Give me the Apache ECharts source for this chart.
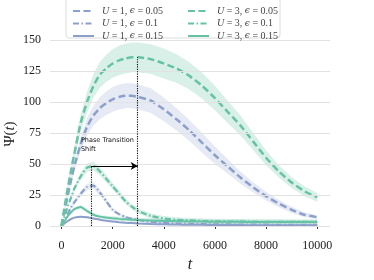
<!DOCTYPE html>
<html><head><meta charset="utf-8">
<script src="https://cdn.jsdelivr.net/npm/echarts@6/dist/echarts.min.js"></script>
<style>html,body{margin:0;padding:0;background:#fff}#c{width:374px;height:280px}</style>
</head><body><div id="c"></div><script>
// time grid
const T = [0,125,250,375,500,750,1000,1250,1500,1750,2000,2250,2500,2750,3000,3500,4000,4500,5000,5500,6000,6500,7000,7500,8000,8500,9000,9500,10000];
// U=1
const u1e005 = [0,13,25,37,48,66,80,89,95,99,102,104,105,105,104,101,94,86,77,67,57,48,39,31,24,18,13,9,7];
const u1e005Err = [0,1,2,3,4,5.5,7,8,9,9.5,10,10,10,10,10,10,9.5,9,8.5,8,7,6,5,4,3.5,3,2.5,2,1.5];
const u1e01 = [0,5,10,15,19,26,31.5,32.5,27,20,13,9.5,7.2,5.8,4.8,3.2,2.5,2,1.7,1.5,1.3,1.2,1.1,1,1,0.9,0.9,0.8,0.8];
const u1e01Err = [0,0.5,1,1.4,1.7,2.2,2.5,2.5,2.3,2,1.6,1.3,1,0.9,0.8,0.7,0.7,0.7,0.7,0.7,0.7,0.7,0.7,0.7,0.7,0.7,0.7,0.7,0.7];
const u1e015 = [0,2.2,4,5.6,6.7,7.5,7,6,5,4.2,3.5,3,2.6,2.3,2,1.6,1.3,1.1,1,0.9,0.8,0.7,0.7,0.6,0.6,0.6,0.5,0.5,0.5];
const u1e015Err = [0,0.3,0.5,0.6,0.7,0.8,0.8,0.7,0.6,0.6,0.6,0.6,0.6,0.6,0.6,0.6,0.6,0.6,0.6,0.6,0.6,0.6,0.6,0.6,0.6,0.6,0.6,0.6,0.6];
// U=3
const u3e005 = [0,16,31,45,58,83,100,113,122,127,131,133.5,135,136,136,134.5,131,127,121,113,103,92,81,68,55,44,35,28,23];
const u3e005Err = [0,1.5,3,4,5,7,8.5,9.5,10.5,11,11.5,12,12,12,12,12,12,11.5,11,10.5,10,9,8,7,6,5,4.5,4,3.5];
const u3e01 = [0,8,16,23,30,40,47,48.3,44,38,32,26,20,15.5,12,8,6,5,4.5,4,3.8,3.6,3.5,3.4,3.3,3.3,3.2,3.2,3.2];
const u3e01Err = [0,0.6,1.2,1.8,2.2,2.8,3.3,3.5,3.3,3,2.7,2.4,2.2,2,2,2,2,2,2,2,2,2,2,2,2,2,2,2,2];
const u3e015 = [0,4,8,11,13.5,15.3,12,9,7.5,6.8,6.2,5.7,5.3,5,4.8,4.4,4,3.8,3.6,3.5,3.4,3.3,3.3,3.2,3.2,3.1,3.1,3.1,3.1];
const u3e015Err = [0,0.4,0.8,1,1.2,1.4,1.4,1.4,1.4,1.5,1.6,1.7,1.8,1.8,1.8,1.8,1.8,1.8,1.8,1.8,1.8,1.8,1.8,1.8,1.8,1.8,1.8,1.8,1.8];
// ticks
const xTicks = [0,2000,4000,6000,8000,10000];
const yTicks = [0,25,50,75,100,125,150];
// annotation
const shiftFrom = 1150, shiftTo = 2980, shiftLevel = 48.3, shiftTop = 136;
const noteText = 'Phase Transition\nShift';
const notePos = [760, 65.7];

const BLUE = '#8da0cb', GREEN = '#66c2a5';
const BLUE_BAND = 'rgba(141,160,203,0.22)', GREEN_BAND = 'rgba(102,194,165,0.25)';
const DASH = [7,3.5], DASHDOT = [6,2.5,1.5,2.5];
const labels = {
  a1:'{i|U} = 1, {e|ϵ} = 0.05', b1:'{i|U} = 1, {e|ϵ} = 0.1', c1:'{i|U} = 1, {e|ϵ} = 0.15',
  a3:'{i|U} = 3, {e|ϵ} = 0.05', b3:'{i|U} = 3, {e|ϵ} = 0.1', c3:'{i|U} = 3, {e|ϵ} = 0.15'
};
const series = [];
const SM = 0.2;
function add(name, vals, errs, color, band, dash, width) {
  series.push({type:'custom', silent:true, z:1, clip:true,
    data: vals.map((v,i)=>[T[i], v-errs[i], v+errs[i]]),
    encode:{x:0, y:[1,2]},
    renderItem:(params, api) => {
      if (params.dataIndex !== 0) return null;
      const pts = [];
      for (let i = 0; i < T.length; i++) pts.push(api.coord([T[i], vals[i]+errs[i]]));
      for (let i = T.length-1; i >= 0; i--) pts.push(api.coord([T[i], vals[i]-errs[i]]));
      return {type:'polygon', shape:{points:pts}, style:{fill:band}};
    }});
  series.push({name, type:'line', data: vals.map((v,i)=>[T[i], v]), symbol:'none', smooth:SM,
    lineStyle:{color, width, type:dash}, itemStyle:{color}, z:3});
}
add('a1', u1e005, u1e005Err, BLUE, BLUE_BAND, DASH, 2.5);
add('b1', u1e01, u1e01Err, BLUE, BLUE_BAND, DASHDOT, 2.2);
add('c1', u1e015, u1e015Err, BLUE, BLUE_BAND, 'solid', 2);
add('a3', u3e005, u3e005Err, GREEN, GREEN_BAND, DASH, 2.5);
add('b3', u3e01, u3e01Err, GREEN, GREEN_BAND, DASHDOT, 2.2);
add('c3', u3e015, u3e015Err, GREEN, GREEN_BAND, 'solid', 2);

// grid lines
series.push({type:'line', data:[], z:0, silent:true, markLine:{silent:true, symbol:'none', label:{show:false},
  lineStyle:{color:'#e2e2e2', width:1, type:'solid'}, animation:false,
  data: yTicks.map(v=>({yAxis:v}))}});
// annotation
series.push({type:'line', data:[], z:6, silent:true,
  markLine:{silent:true, animation:false, label:{show:false}, symbol:'none', symbolSize:7,
    data:[
      [{coord:[shiftFrom,0], lineStyle:{color:'#111', width:1.1, type:[1.2,1.2]}},{coord:[shiftFrom,shiftLevel]}],
      [{coord:[shiftTo,0], lineStyle:{color:'#111', width:1.1, type:[1.2,1.2]}},{coord:[shiftTo,shiftTop]}],
      [{coord:[shiftFrom,shiftLevel], symbol:'none', lineStyle:{color:'#000', width:1.2, type:'solid'}},
       {coord:[shiftTo,shiftLevel], symbol:'arrow', symbolSize:[6,7]}]
    ]},
  markPoint:{silent:true, animation:false, symbol:'rect', symbolSize:0,
    data:[{coord:notePos, label:{show:true, position:'right', distance:0, formatter:noteText,
      fontSize:6.5, lineHeight:9, fontFamily:'DejaVu Sans', color:'#111', align:'left'}}]}
});

const rich = {
  i:{fontFamily:'Liberation Serif', fontStyle:'italic', fontSize:10, color:'#444'},
  e:{fontFamily:'DejaVu Serif', fontStyle:'italic', fontSize:9, color:'#444'}
};
function legend(names, left) {
  return {data:names, orient:'vertical', left, top:0, itemWidth:21, itemHeight:8, itemGap:0.5,
    formatter: n => labels[n], z:6,
    itemStyle:{opacity:0, borderWidth:0},
    textStyle:{fontFamily:'Liberation Serif', fontSize:10, color:'#444', lineHeight:12, padding:[0,0,0,3], rich}};
}
const option = {
  animation:false,
  backgroundColor:'#fff',
  grid:{left:50, right:44, top:33, bottom:46, containLabel:false, outerBoundsMode:'none'},
  graphic:[
    {type:'rect', shape:{x:66, y:-3, width:214, height:41, r:3}, z:4,
      style:{fill:'rgba(255,255,255,0.85)', stroke:'#dcdcdc', lineWidth:1}},
    {type:'text', x:10, y:134, rotation:Math.PI/2, z:5,
      style:{text:'{n|Ψ(}{i|t}{n|)}', align:'center', verticalAlign:'middle',
        rich:{n:{fontFamily:'Liberation Serif', fontSize:15, fill:'#222'},
              i:{fontFamily:'Liberation Serif', fontStyle:'italic', fontSize:15, fill:'#222'}}}}
  ],
  legend:[legend(['a1','b1','c1'],67), legend(['a3','b3','c3'],182)],
  xAxis:{type:'value', min:-450, max:10500, offset:1,
    axisLine:{show:false},
    axisTick:{show:true, length:3, customValues:xTicks, lineStyle:{color:'#333', width:1}},
    axisLabel:{customValues:xTicks, margin:5, formatter:v=>String(v), fontFamily:'Liberation Serif', fontSize:12, color:'#222'},
    splitLine:{show:false},
    name:'t', nameLocation:'middle', nameGap:17,
    nameTextStyle:{fontFamily:'Liberation Serif', fontStyle:'italic', fontSize:16, color:'#222'}},
  yAxis:{type:'value', min:-6.5, max:155.6, offset:1,
    axisLine:{show:false},
    axisTick:{show:true, length:4, customValues:yTicks, lineStyle:{color:'#333', width:1}},
    axisLabel:{customValues:yTicks, margin:8, formatter:v=>String(v), fontFamily:'Liberation Serif', fontSize:12, color:'#222'},
    splitLine:{show:false}},
  series
};
const chart = echarts.init(document.getElementById('c'));
chart.setOption(option);
</script></body></html>
